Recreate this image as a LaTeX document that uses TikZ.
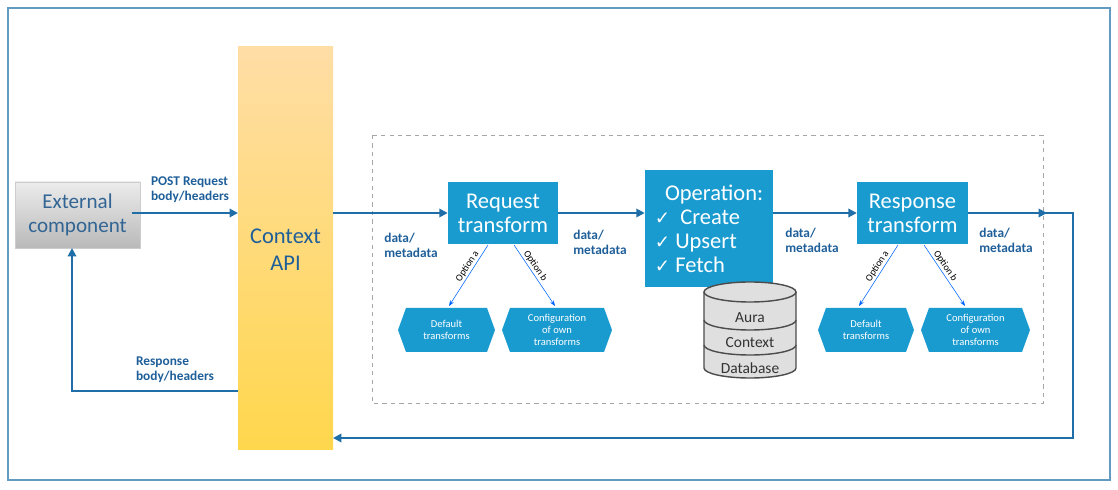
\documentclass[tikz,border=0pt]{standalone}
\usepackage{fontspec}
\setmainfont{Carlito}
\newfontfamily\symfont{DejaVu Sans}
\usetikzlibrary{positioning,arrows.meta}
\definecolor{boxblue}{HTML}{1A9BD0}
\definecolor{linkblue}{HTML}{1F6EA8}
\definecolor{lblblue}{HTML}{1F5F99}
\tikzset{
  px/.style={x=0.025cm,y=-0.025cm},
  tbox/.style={fill=boxblue,text=white,font=\fontsize{16}{17}\selectfont,align=center,inner sep=0pt},
  flow/.style={linkblue,line width=1.4pt,-{Triangle[length=6pt,width=6pt]}},
  thinarr/.style={blue!60!cyan,line width=0.4pt,-{Stealth[length=4pt]}},
  lbl/.style={text=lblblue,font=\bfseries\fontsize{9.5}{10.5}\selectfont,align=left},
  opt/.style={text=black,font=\fontsize{7}{7}\selectfont,inner sep=1pt},
  hext/.style={text=white,font=\fontsize{7.5}{8.5}\selectfont,align=center}
}
\newcommand{\ck}{{\symfont\fontsize{13}{13}\selectfont ✓}}
\newcommand{\hexbox}[4]{% name, x1, x2, text
  \fill[boxblue] (#2+8,308) -- (#3-8,308) -- (#3,330) -- (#3-8,352) -- (#2+8,352) -- (#2,330) -- cycle;
  \node[hext] (#1) at ({(#2+#3)/2},330) {#4};}
\begin{document}
\begin{tikzpicture}[px]
  \useasboundingbox (0,0) rectangle (1118,490);
  \draw[linkblue!70,line width=0.8pt] (8,8) rectangle (1110,480);
  \draw[gray!70,dashed,line width=0.6pt] (372,135) rectangle (1043,403);

  % external component and Context API
  \shade[top color=gray!15,bottom color=gray!55,draw=gray!40] (15,182) rectangle (140,248);
  \node[text=lblblue!80!gray,font=\fontsize{15}{17}\selectfont,align=center] (ext) at (77.5,215) {External\\component};
  \coordinate (extS) at (72,248);
  \shade[top color=yellow!25!orange!35,bottom color=orange!45!yellow!70] (238,47) rectangle (333,450);
  \node[text=lblblue,font=\fontsize{16}{19}\selectfont,align=center] (api) at (285.5,250) {Context\\API};

  % boxes
  \node[tbox,minimum width=2.75cm,minimum height=1.55cm] (req) at (503,213) {Request\\transform};
  \node[tbox,minimum width=3.2cm,minimum height=2.92cm,align=left] (op) at (709,228.5) {\ \ Operation:\\ \ck\ \ Create\\ \ck\ Upsert\\ \ck\ Fetch};
  \node[tbox,minimum width=2.77cm,minimum height=1.55cm] (resp) at (912.5,213) {Response\\transform};

  % database
  \fill[gray!25] (704,292) -- (704,368) arc[start angle=180,end angle=360,x radius=1.15cm,y radius=0.25cm] -- (796,292) arc[start angle=0,end angle=180,x radius=1.15cm,y radius=0.25cm];
  \begin{scope}[line width=1pt,gray!60!black]
    \draw (750,292) ellipse[x radius=1.15cm,y radius=0.25cm];
    \draw (704,292) -- (704,368) arc[start angle=180,end angle=360,x radius=1.15cm,y radius=0.25cm] -- (796,292);
    \draw (704,320) arc[start angle=180,end angle=360,x radius=1.15cm,y radius=0.25cm];
    \draw (704,345) arc[start angle=180,end angle=360,x radius=1.15cm,y radius=0.25cm];
  \end{scope}
  \node[text=gray!40!black,font=\fontsize{11}{12}\selectfont] (db1) at (750,318) {Aura};
  \node[text=gray!40!black,font=\fontsize{11}{12}\selectfont] (db2) at (750,343) {Context};
  \node[text=gray!40!black,font=\fontsize{11}{12}\selectfont] (db3) at (750,368) {Database};

  % hexagons
  \hexbox{defa}{398}{495}{Default\\transforms}
  \hexbox{confa}{502}{612}{Configuration\\of own\\transforms}
  \hexbox{defb}{818}{914}{Default\\transforms}
  \hexbox{confb}{921}{1030}{Configuration\\of own\\transforms}

  % flow
  \draw[flow] (ext.east |- 0,213) -- (238,213);
  \node[lbl] (postl) at (190,190) {POST Request\\body/headers};
  \draw[flow] (333,213) -- (req.west);
  \node[lbl] (l1) at (411,245) {data/\\metadata};
  \draw[flow] (req.east) -- (op.west |- req.east);
  \node[lbl] (l2) at (600,242) {data/\\metadata};
  \draw[flow] (op.east |- resp.west) -- (resp.west);
  \node[lbl] (l3) at (812,240) {data/\\metadata};
  \draw[flow] (resp.east) -- (1047,213);
  \node[lbl] (l4) at (1006,240) {data/\\metadata};
  \draw[flow] (1043,213) -- (1073,213) -- (1073,438) -- (333,438);
  \draw[flow] (238,391) -- (72,391) -- (extS);
  \node[lbl] (respl) at (175,370) {Response\\body/headers};

  % options
  \draw[thinarr] (488,245) -- (449,306) node[opt,pos=0.4,sloped,above] {Option a};
  \draw[thinarr] (514,245) -- (555,306) node[opt,pos=0.4,sloped,above] {Option b};
  \draw[thinarr] (898,245) -- (859,306) node[opt,pos=0.4,sloped,above] {Option a};
  \draw[thinarr] (924,245) -- (965,306) node[opt,pos=0.4,sloped,above] {Option b};
\end{tikzpicture}
\end{document}
